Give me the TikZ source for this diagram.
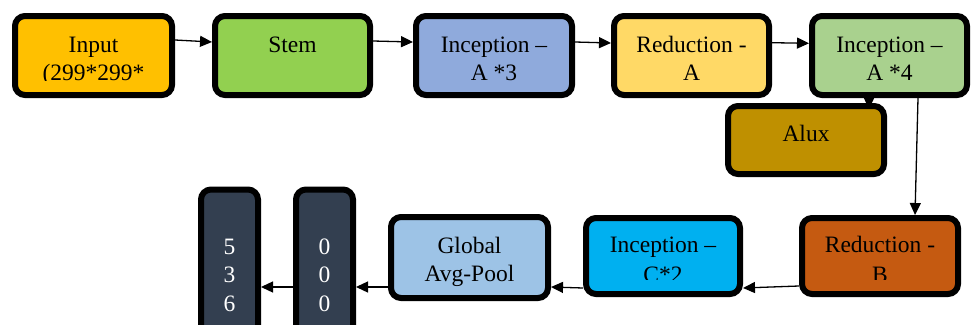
\documentclass[tikz,border=0pt]{standalone}
\usepackage{fontspec}
\setmainfont{Liberation Serif}
\usetikzlibrary{arrows.meta,calc,backgrounds}
\definecolor{cInput}{HTML}{FFC000}
\definecolor{cStem}{HTML}{92D050}
\definecolor{cIncA}{HTML}{8FAADC}
\definecolor{cRedA}{HTML}{FFD966}
\definecolor{cIncAf}{HTML}{A9D18E}
\definecolor{cAlux}{HTML}{BF9000}
\definecolor{cRedB}{HTML}{C55A11}
\definecolor{cIncC}{HTML}{00B0F0}
\definecolor{cGlob}{HTML}{9DC3E6}
\definecolor{cDark}{HTML}{333F50}
\begin{document}
\begin{tikzpicture}[x=1pt,y=-1pt,
  box/.style={draw=black,line width=6pt,rounded corners=10pt,outer sep=3pt,inner sep=0pt},
  lbl/.style={font=\fontsize{23.5}{28}\selectfont,anchor=base,inner sep=0pt,outer sep=0pt},
  wlbl/.style={lbl,text=white},
  arr/.style={draw=black,line width=1.3pt,-{Triangle[length=12pt,width=11pt]}}]
\useasboundingbox (0,0) rectangle (971,324);
\clip (0,0) rectangle (971,324);
% boxes
\node[box,fill=cInput,minimum width=157pt,minimum height=79pt] (in) at (93.5,55.5) {};
\node[box,fill=cStem,minimum width=155pt,minimum height=79pt] (st) at (292.5,55.5) {};
\node[box,fill=cIncA,minimum width=156pt,minimum height=79pt] (a3) at (494,55.5) {};
\node[box,fill=cRedA,minimum width=155pt,minimum height=79pt] (ra) at (691.5,55.5) {};
\node[box,fill=cIncAf,minimum width=155pt,minimum height=79pt] (a4) at (889.5,55.5) {};
\node[box,fill=cAlux,minimum width=156pt,minimum height=68pt] (alux) at (806,140) {};
\node[box,fill=cRedB,minimum width=156pt,minimum height=76pt] (rb) at (880,256) {};
\node[box,fill=cIncC,minimum width=154pt,minimum height=76pt] (c2) at (663,256) {};
\node[box,fill=cGlob,minimum width=157pt,minimum height=81pt] (gl) at (469.5,257.5) {};
\node[box,fill=cDark,minimum width=57pt,minimum height=149pt] (d2) at (324.5,264) {};
\node[box,fill=cDark,minimum width=57pt,minimum height=149pt] (d1) at (229.5,264) {};
% top row labels (clipped like the original)
\begin{scope}
\clip (0,0) rectangle (971,80.6);
\node[lbl] (inT1) at ($(in.north)+(0,39)$) {Input};
\node[lbl] (inT2) at ($(in.north)+(0,67)$) {(299*299*};
\node[lbl] (stT1) at ($(st.north)+(0,39)$) {Stem};
\node[lbl] (a3T1) at ($(a3.north)+(0,39)$) {Inception –};
\node[lbl] (a3T2) at ($(a3.north)+(0,67.5)$) {A *3};
\node[lbl] (raT1) at ($(ra.north)+(0,39)$) {Reduction -};
\node[lbl] (raT2) at ($(ra.north)+(0,67.5)$) {A};
\node[lbl] (a4T1) at ($(a4.north)+(0,39)$) {Inception –};
\node[lbl] (a4T2) at ($(a4.north)+(0,67.5)$) {A *4};
\end{scope}
\node[lbl] (aluxT) at ($(alux.north)+(0,38)$) {Alux};
\begin{scope}
\clip (570,200) rectangle (971,279.8);
\node[lbl] (rbT1) at ($(rb.north)+(0,37.3)$) {Reduction -};
\node[lbl] (rbT2) at ($(rb.north)+(0,67)$) {B};
\node[lbl] (c2T1) at ($(c2.north)+(0,37.3)$) {Inception –};
\node[lbl] (c2T2) at ($(c2.north)+(0,67)$) {C*2};
\end{scope}
\node[lbl] (glT1) at ($(gl.north)+(0,39)$) {Global};
\node[lbl] (glT2) at ($(gl.north)+(0,67.5)$) {Avg-Pool};
\node[wlbl] (d1a) at ($(d1.north)+(0,67.5)$) {5};
\node[wlbl] (d1b) at ($(d1.north)+(0,96)$) {3};
\node[wlbl] (d1c) at ($(d1.north)+(0,124.5)$) {6};
\node[wlbl] (d2a) at ($(d2.north)+(0,67.5)$) {0};
\node[wlbl] (d2b) at ($(d2.north)+(0,96)$) {0};
\node[wlbl] (d2c) at ($(d2.north)+(0,124.5)$) {0};
% connectors
\begin{scope}[on background layer]
\draw[arr] ($(in.east)+(0,-15.5)$) -- ($(st.west)+(0,-13.5)$);
\draw[arr] ($(st.east)+(0,-14.5)$) -- ($(a3.west)+(0,-13.5)$);
\draw[arr] ($(a3.east)+(0,-13.5)$) -- ($(ra.west)+(0,-12.5)$);
\draw[arr] ($(ra.east)+(0,-12.8)$) -- ($(a4.west)+(0,-12.2)$);
\draw[arr] ($(a4.south)+(-20.5,-15)$) -- ($(alux.north)+(63,6)$);
\draw[arr] ($(a4.south)+(28.5,0)$) -- ($(rb.north)+(35,0)$);
\draw[arr] ($(rb.west)+(0,30)$) -- ($(c2.east)+(0,32)$);
\draw[arr] ($(c2.west)+(0,32)$) -- ($(gl.east)+(0,29.5)$);
\draw[arr] ($(gl.west)+(0,29.5)$) -- ($(d2.east)+(0,23)$);
\draw[arr] ($(d2.west)+(0,23)$) -- ($(d1.east)+(0,23)$);
\end{scope}
\end{tikzpicture}
\end{document}
